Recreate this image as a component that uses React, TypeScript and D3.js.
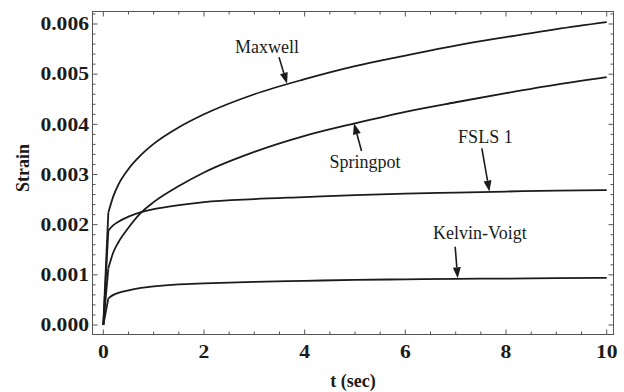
import React from "react";
import * as d3 from "d3";

// Time samples (s) and creep strain for each model
const times = [0, 0.1, 0.2, 0.3, 0.5, 0.75, 1, 1.5, 2, 3, 4, 5, 6, 7, 8, 9, 10];
const maxwell = [0, 0.00224, 0.00257, 0.0028, 0.00311, 0.00339, 0.00361, 0.00394, 0.0042, 0.0046, 0.0049, 0.00516, 0.00537, 0.00557, 0.00574, 0.0059, 0.00604];
const springpot = [0, 0.00113, 0.00145, 0.00165, 0.00194, 0.00224, 0.00245, 0.00277, 0.00304, 0.00345, 0.00377, 0.00402, 0.00425, 0.00444, 0.00462, 0.00479, 0.00494];
const fsls1 = [0, 0.00188, 0.00199, 0.00206, 0.00216, 0.00225, 0.00231, 0.00239, 0.00245, 0.00251, 0.00255, 0.00259, 0.00262, 0.00264, 0.00266, 0.00268, 0.00269];
const kelvinVoigt = [0, 0.00053, 0.0006, 0.00064, 0.00069, 0.00074, 0.00077, 0.00081, 0.00083, 0.00086, 0.00088, 0.0009, 0.00091, 0.00092, 0.000925, 0.000935, 0.00094];

const xTicks = [0, 2, 4, 6, 8, 10];
const yTicks = [0, 0.001, 0.002, 0.003, 0.004, 0.005, 0.006];

const seriesNames = ["Maxwell", "Springpot", "FSLS 1", "Kelvin-Voigt"];
const seriesValues = [maxwell, springpot, fsls1, kelvinVoigt];

const W = 624;
const H = 392;
const frame = { left: 92.5, right: 613.5, top: 11.5, bottom: 334.5 };

const x = d3.scaleLinear().domain([0, 10]).range([103.3, 606.7]);
const y = d3.scaleLinear().domain([0, 0.006]).range([325, 24]);

const ink = "#1b1b1b";
const serif = "Liberation Serif, Times New Roman, Times, serif";

// Each curve: a straight ramp to the first sample, then a smooth creep branch
function curvePaths(vals: number[]) {
  const pts: [number, number][] = times.map((t, i) => [x(t), y(vals[i])]);
  const ramp = d3.line().curve(d3.curveLinear)(pts.slice(0, 2)) || "";
  const creep = d3.line().curve(d3.curveMonotoneX)(pts.slice(1)) || "";
  return [ramp, creep];
}

// Callouts in data coordinates: label anchor, arrow tail, arrow tip
const callouts = [
  { text: "Maxwell", lx: 3.25, ly: 0.00542, tail: [3.49, 0.00534], tip: [3.65, 0.00481] },
  { text: "Springpot", lx: 5.2, ly: 0.00313, tail: [5.13, 0.00347], tip: [4.98, 0.00402] },
  { text: "FSLS 1", lx: 7.59, ly: 0.00363, tail: [7.52, 0.00352], tip: [7.67, 0.00266] },
  { text: "Kelvin-Voigt", lx: 7.48, ly: 0.00171, tail: [6.99, 0.00156], tip: [7.04, 0.00093] },
];

function Arrow({ tail, tip }: { tail: number[]; tip: number[] }) {
  const x0 = x(tail[0]), y0 = y(tail[1]);
  const x1 = x(tip[0]), y1 = y(tip[1]);
  const a = Math.atan2(y1 - y0, x1 - x0);
  const len = 11, half = 4;
  const bx = x1 - len * Math.cos(a), by = y1 - len * Math.sin(a);
  const px = -Math.sin(a) * half, py = Math.cos(a) * half;
  return (
    <g>
      <line x1={x0} y1={y0} x2={bx} y2={by} stroke={ink} strokeWidth={1.6} />
      <path d={`M${x1},${y1}L${bx + px},${by + py}L${bx - px},${by - py}Z`} fill={ink} />
    </g>
  );
}

export default function App() {
  const xMinor = d3.range(0, 10.01, 0.5);
  const yMinor = d3.range(0, 0.00621, 0.0002);
  const textStyle = { fontFamily: serif };
  return (
    <svg width={W} height={H} style={{ position: "absolute", left: 0, top: 0, background: "#fff" }}>
      <rect x={0} y={0} width={W} height={H} fill="#fff" />
      {/* ticks on all four sides */}
      <g stroke="#555" strokeWidth={1}>
        {xMinor.map((t, i) => {
          const major = Math.abs(t / 2 - Math.round(t / 2)) < 1e-6;
          const l = major ? 5 : 3;
          return (
            <g key={"xt" + i}>
              <line x1={x(t)} x2={x(t)} y1={frame.bottom} y2={frame.bottom - l} />
              <line x1={x(t)} x2={x(t)} y1={frame.top} y2={frame.top + l} />
            </g>
          );
        })}
        {yMinor.map((v, i) => {
          const major = i % 5 === 0;
          const l = major ? 5 : 3;
          return (
            <g key={"yt" + i}>
              <line x1={frame.left} x2={frame.left + l} y1={y(v)} y2={y(v)} />
              <line x1={frame.right} x2={frame.right - l} y1={y(v)} y2={y(v)} />
            </g>
          );
        })}
      </g>
      <rect x={frame.left} y={frame.top} width={frame.right - frame.left} height={frame.bottom - frame.top} fill="none" stroke="#555" strokeWidth={1} />

      {/* curves */}
      <g fill="none" stroke={ink} strokeWidth={1.8} strokeLinejoin="round">
        {seriesValues.map((vals, i) =>
          curvePaths(vals).map((d, j) => <path key={seriesNames[i] + j} d={d} />)
        )}
      </g>

      {/* tick labels */}
      <g style={textStyle} fontWeight="bold" fontSize={18} fill={ink}>
        {xTicks.map((t) => (
          <text key={"xl" + t} transform={`translate(${x(t)},${358}) scale(1.2,1)`} textAnchor="middle">
            {t}
          </text>
        ))}
        {yTicks.map((v) => (
          <text key={"yl" + v} transform={`translate(${89},${y(v) + 6.3}) scale(1.2,1)`} textAnchor="end">
            {d3.format(".3f")(v)}
          </text>
        ))}
      </g>

      {/* axis titles */}
      <text x={(frame.left + frame.right) / 2} y={387} textAnchor="middle" style={textStyle} fontWeight="bold" fontSize={18} fill={ink}>
        t (sec)
      </text>
      <text transform={`translate(29,${168}) rotate(-90)`} textAnchor="middle" style={textStyle} fontWeight="bold" fontSize={18} fill={ink}>
        Strain
      </text>

      {/* callouts */}
      {callouts.map((c) => (
        <g key={c.text}>
          <text x={x(c.lx)} y={y(c.ly)} textAnchor="middle" style={textStyle} fontSize={18} fill={ink}>
            {c.text}
          </text>
          <Arrow tail={c.tail} tip={c.tip} />
        </g>
      ))}
    </svg>
  );
}
